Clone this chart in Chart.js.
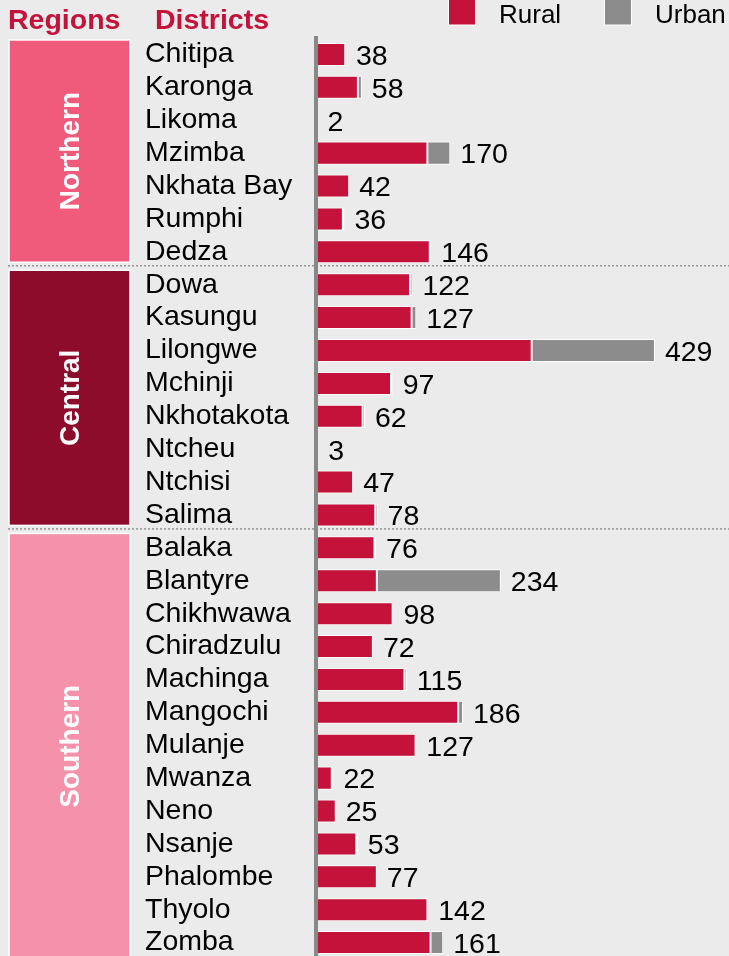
<!DOCTYPE html>
<html>
<head>
<meta charset="utf-8">
<script src="https://cdn.jsdelivr.net/npm/chart.js@4"></script>
<style>
  html, body { margin: 0; padding: 0; background: #ebebeb; overflow: hidden; }
  #wrap { position: relative; width: 729px; height: 974px; }
</style>
</head>
<body>
<div id="wrap"><canvas id="grafica"></canvas></div>
<script>
const districts = ['Chitipa', 'Karonga', 'Likoma', 'Mzimba', 'Nkhata Bay', 'Rumphi', 'Dedza',
  'Dowa', 'Kasungu', 'Lilongwe', 'Mchinji', 'Nkhotakota', 'Ntcheu', 'Ntchisi', 'Salima',
  'Balaka', 'Blantyre', 'Chikhwawa', 'Chiradzulu', 'Machinga', 'Mangochi', 'Mulanje',
  'Mwanza', 'Neno', 'Nsanje', 'Phalombe', 'Thyolo', 'Zomba'];
const rural = [37, 53, 2, 141, 42, 34, 144, 119, 121, 273, 95, 59, 3, 47, 75,
  74, 77, 97, 72, 112, 180, 126, 20, 25, 51, 77, 141, 145];
const urban = [1, 5, 0, 29, 0, 2, 2, 3, 6, 156, 2, 3, 0, 0, 3,
  2, 157, 1, 0, 3, 6, 1, 2, 0, 2, 0, 1, 16];
const regionNames = ['Northern', 'Central', 'Southern'];
const regionSizes = [7, 8, 13];
const regionColors = ['#f05b7c', '#8d0c2b', '#f592aa'];

const FONT = 'Liberation Sans, Arial, sans-serif';
Chart.defaults.font.family = FONT;

const ctx = document.getElementById('grafica').getContext('2d');

const decor = {
  id: 'decor',
  beforeDatasetsDraw(chart) {
    const c = chart.ctx;
    const y = chart.scales.y;
    const half = (y.getPixelForValue(1) - y.getPixelForValue(0)) / 2;
    c.save();
    // headers
    c.fillStyle = '#c4123a';
    c.font = 'bold 28.5px ' + FONT;
    c.textBaseline = 'alphabetic';
    c.textAlign = 'left';
    c.fillText('Regions', 8, 29);
    c.fillText('Districts', 155, 29);

    // region bands and separators
    let start = 0;
    regionNames.forEach((name, i) => {
      const end = start + regionSizes[i] - 1;
      const last = i === regionNames.length - 1;
      const top = y.getPixelForValue(start) - half + 2;
      const bottom = last ? chart.height : y.getPixelForValue(end) + half - 6;
      c.fillStyle = regionColors[i];
      c.fillRect(9, top, 121, bottom - top);
      c.strokeStyle = '#ffffff';
      c.lineWidth = 1.5;
      c.strokeRect(9, top, 121, bottom - top);

      const mid = last ? (top + y.getPixelForValue(end) + half) / 2 : (top + bottom) / 2;
      c.save();
      c.translate(70, mid);
      c.rotate(-Math.PI / 2);
      c.fillStyle = '#ffffff';
      c.font = 'bold 28px ' + FONT;
      c.textAlign = 'center';
      c.textBaseline = 'middle';
      c.fillText(name, 0, 1);
      c.restore();

      if (!last) {
        const ly = y.getPixelForValue(end) + half - 2.5;
        c.strokeStyle = '#949494';
        c.lineWidth = 1.5;
        c.setLineDash([2, 2]);
        c.beginPath();
        c.moveTo(8, ly);
        c.lineTo(729, ly);
        c.stroke();
        c.setLineDash([]);
      }
      start = end + 1;
    });

    // legend
    c.font = '26px ' + FONT;
    c.textBaseline = 'alphabetic';
    const legendX = [448, 604];
    chart.data.datasets.forEach((ds, i) => {
      c.fillStyle = ds.backgroundColor;
      c.fillRect(legendX[i], -3, 28, 28);
      c.strokeStyle = '#ffffff';
      c.lineWidth = 1;
      c.strokeRect(legendX[i] + 0.5, -3, 27, 28);
      c.fillStyle = '#000000';
      c.fillText(ds.label, legendX[i] + 51, 23);
    });
    c.restore();
  },
  afterDatasetsDraw(chart) {
    const c = chart.ctx;
    const x = chart.scales.x;
    const y = chart.scales.y;
    c.save();
    c.fillStyle = '#000000';
    c.font = '28.5px ' + FONT;
    c.textAlign = 'left';
    c.textBaseline = 'middle';
    districts.forEach((d, i) => {
      const total = rural[i] + urban[i];
      c.fillText(String(total), x.getPixelForValue(total) + 10, y.getPixelForValue(i) + 2.5);
    });
    c.restore();
  }
};

new Chart(ctx, {
  type: 'bar',
  data: {
    labels: districts,
    datasets: [
      { label: 'Rural', data: rural, backgroundColor: '#c4123a' },
      { label: 'Urban', data: urban, backgroundColor: '#8c8c8c' }
    ]
  },
  options: {
    indexAxis: 'y',
    responsive: true,
    maintainAspectRatio: false,
    animation: false,
    layout: { padding: { top: 38, left: 145, right: 18, bottom: 0 } },
    datasets: {
      bar: {
        barPercentage: 0.7,
        categoryPercentage: 1,
        borderColor: '#ffffff',
        borderWidth: 1,
        borderSkipped: false
      }
    },
    scales: {
      x: {
        stacked: true,
        display: false,
        min: 0,
        max: 500
      },
      y: {
        stacked: true,
        grid: { display: false },
        border: { display: true, color: '#888888', width: 4, z: 1 },
        ticks: {
          autoSkip: false,
          crossAlign: 'far',
          padding: 0,
          color: '#000000',
          font: { size: 28.5, lineHeight: 1.05 }
        },
        afterFit(scale) { scale.width = 171; }
      }
    },
    plugins: {
      legend: { display: false },
      tooltip: { enabled: false }
    }
  },
  plugins: [decor]
});
</script>
</body>
</html>
